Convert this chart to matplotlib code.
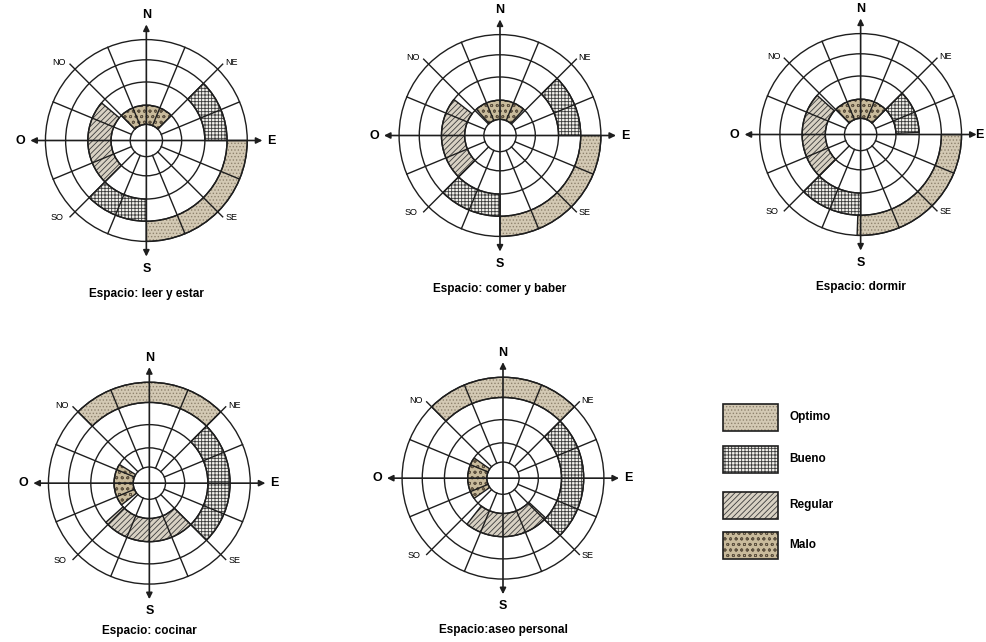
import numpy as np
import matplotlib.pyplot as plt
from matplotlib.patches import Wedge, Circle, Rectangle, FancyArrowPatch

# --- data: one list per space, segments as (category, ring, start deg, end deg)
# angles are compass bearings (0 = N, clockwise), ring 1 = innermost
titles = ["Espacio: leer y estar", "Espacio: comer y baber", "Espacio: dormir",
          "Espacio: cocinar", "Espacio:aseo personal"]

leer = [("Optimo", 4, 90, 180), ("Bueno", 3, 45, 90), ("Bueno", 3, 180, 225),
        ("Regular", 2, 225, 310), ("Malo", 1, 315, 405)]
comer = [("Optimo", 4, 90, 180), ("Bueno", 3, 45, 90), ("Bueno", 3, 180, 225),
         ("Regular", 2, 225, 308), ("Malo", 1, 318, 402)]
dormir = [("Optimo", 4, 90, 182), ("Bueno", 2, 45, 88), ("Bueno", 3, 180, 225),
          ("Regular", 2, 225, 312), ("Malo", 1, 316, 405)]
cocinar = [("Optimo", 4, 315, 405), ("Bueno", 3, 45, 135),
           ("Regular", 2, 135, 228), ("Malo", 1, 232, 302)]
aseo = [("Optimo", 4, 315, 405), ("Bueno", 3, 45, 135),
        ("Regular", 2, 133, 218), ("Malo", 1, 235, 305)]
spaces = [leer, comer, dormir, cocinar, aseo]

categories = ["Optimo", "Bueno", "Regular", "Malo"]

# --- layout (pixels of the 987x642 canvas)
centers = [(146, 140), (500, 135), (861, 134), (149, 483), (503, 478)]
title_y = [294, 289, 287, 631, 630]
R = 101
radii = [0.16, 0.35, 0.58, 0.80, 1.0]

styles = {
    "Optimo":  dict(facecolor="#d3c9b4", edgecolor="#8f836e", hatch="....."),
    "Bueno":   dict(facecolor="#f2f0eb", edgecolor="#3a3a3a", hatch="+++++"),
    "Regular": dict(facecolor="#d8d1c3", edgecolor="#3c3c3c", hatch="//////"),
    "Malo":    dict(facecolor="#c9bb9c", edgecolor="#5e5240", hatch="ooo"),
}

plt.rcParams['hatch.linewidth'] = 0.6
ink = "#1e1e1e"
LW = 1.0

fig = plt.figure(figsize=(9.87, 6.42), dpi=100)
ax = fig.add_axes([0, 0, 1, 0.999])
ax.set_xlim(0, 987)
ax.set_ylim(642, 0)
ax.set_aspect('equal')
ax.axis('off')


def draw_compass(cx, cy, segments, title, ty):
    # shaded zones first
    for cat, ring, a1, a2 in segments:
        r_in, r_out = radii[ring - 1] * R, radii[ring] * R
        ax.add_patch(Wedge((cx, cy), r_out, a1 - 90, a2 - 90, width=r_out - r_in,
                           linewidth=0, zorder=1, **styles[cat]))
        ax.add_patch(Wedge((cx, cy), r_out, a1 - 90, a2 - 90, width=r_out - r_in,
                           facecolor='none', edgecolor=ink, linewidth=LW, zorder=3))
    # rings
    for fr in radii:
        ax.add_patch(Circle((cx, cy), fr * R, fill=False, edgecolor=ink,
                            linewidth=LW, zorder=2))
    # spokes every 22.5 degrees (axes drawn as arrows)
    for k in range(16):
        if k % 4 == 0:
            continue
        b = np.radians(k * 22.5)
        r_end = 1.07 * R if k % 2 == 0 else R
        ax.plot([cx + radii[0] * R * np.sin(b), cx + r_end * np.sin(b)],
                [cy - radii[0] * R * np.cos(b), cy - r_end * np.cos(b)],
                color=ink, linewidth=LW, zorder=2)
    # axes with arrow heads
    ext = 1.15 * R
    for (x0, y0, x1, y1) in [(cx, cy + ext, cx, cy - ext), (cx - ext, cy, cx + ext, cy)]:
        ax.add_patch(FancyArrowPatch((x0, y0), (x1, y1), arrowstyle='<|-|>',
                                     mutation_scale=9, color=ink, linewidth=1.2,
                                     shrinkA=0, shrinkB=0, zorder=4))
    font = dict(ha='center', va='center', fontsize=9, fontweight='bold',
                family='Liberation Sans')
    ax.text(cx, cy - ext - 9, "N", **font)
    ax.text(cx, cy + ext + 12, "S", **font)
    ax.text(cx - ext - 10, cy, "O", **font)
    ax.text(min(cx + ext + 9, 980), cy, "E", **font)
    for lab, dx, dy in [("NO", -87, -78), ("NE", 85, -78), ("SO", -89, 77), ("SE", 85, 77)]:
        ax.text(cx + dx, cy + dy, lab, ha='center', va='center', fontsize=6.5,
                family='Liberation Sans')
    ax.text(cx, ty, title, ha='center', va='center', fontsize=8.5,
            fontweight='bold', family='Liberation Sans')


for (cx, cy), segs, t, ty in zip(centers, spaces, titles, title_y):
    draw_compass(cx, cy, segs, t, ty)

# legend
leg_y = [417, 459, 505, 545]
for cat, y in zip(categories, leg_y):
    ax.add_patch(Rectangle((723, y - 13), 55, 27, linewidth=0, zorder=1, **styles[cat]))
    ax.add_patch(Rectangle((723, y - 13), 55, 27, facecolor='none', edgecolor=ink,
                           linewidth=1.2, zorder=2))
    ax.text(790, y, cat, ha='left', va='center', fontsize=8.5, fontweight='bold',
            family='Liberation Sans')

fig.savefig('out.png', dpi=100)
